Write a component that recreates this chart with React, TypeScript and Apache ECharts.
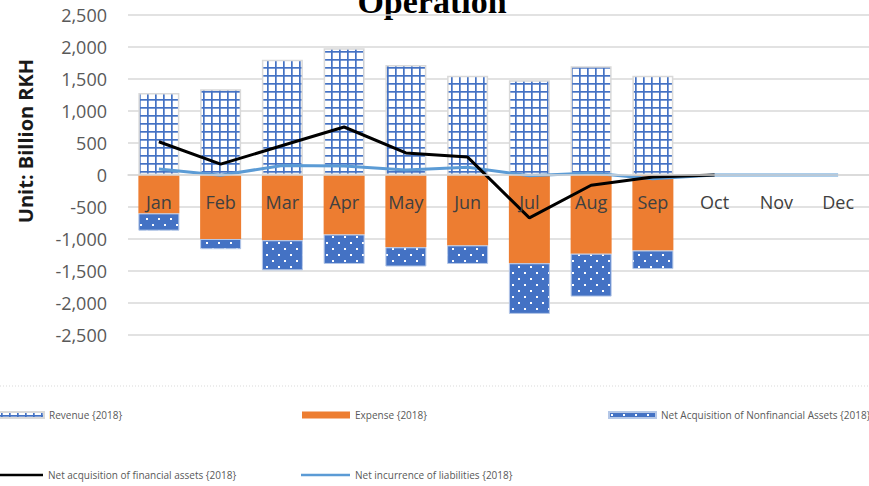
import React, { useEffect, useRef } from "react";
import * as echarts from "echarts";

const months = ["Jan", "Feb", "Mar", "Apr", "May", "Jun", "Jul", "Aug", "Sep", "Oct", "Nov", "Dec"];
const revenue = [1280, 1340, 1800, 1980, 1720, 1550, 1480, 1700, 1550, null, null, null];
const expense = [-600, -1000, -1020, -930, -1130, -1100, -1380, -1230, -1180, null, null, null];
const nonfinancial = [-270, -160, -470, -460, -300, -290, -790, -670, -290, null, null, null];
const financialAssets = [520, 170, 460, 750, 345, 280, -670, -160, -30, 0, null, null];
const liabilities = [95, -5, 150, 140, 80, 120, -10, 30, -60, 0, 0, 0];

const N_REV = "Revenue {2018}";
const N_EXP = "Expense {2018}";
const N_NFA = "Net Acquisition of Nonfinancial Assets {2018}";
const N_FA = "Net acquisition of financial assets {2018}";
const N_LIA = "Net incurrence of liabilities {2018}";

function gridPattern() {
  const c = document.createElement("canvas");
  c.width = 16;
  c.height = 16;
  const g = c.getContext("2d")!;
  g.fillStyle = "#ffffff";
  g.fillRect(0, 0, 16, 16);
  g.fillStyle = "#4472C4";
  g.fillRect(6, 0, 3.4, 16);
  g.fillRect(0, 6, 16, 3.4);
  return { image: c, repeat: "repeat", imageWidth: 8, imageHeight: 8 } as any;
}

function dotPattern() {
  const c = document.createElement("canvas");
  c.width = 24;
  c.height = 24;
  const g = c.getContext("2d")!;
  g.fillStyle = "#4472C4";
  g.fillRect(0, 0, 24, 24);
  g.fillStyle = "#ffffff";
  g.fillRect(4, 4, 4, 4);
  g.fillRect(16, 16, 4, 4);
  return { image: c, repeat: "repeat", imageWidth: 12, imageHeight: 12 } as any;
}

export default function App() {
  const ref = useRef<HTMLDivElement>(null);
  useEffect(() => {
    if (!ref.current) return;
    const chart = echarts.init(ref.current, null, { renderer: "svg" });
    const font = "'Open Sans', 'Noto Sans', sans-serif";
    const legendText = { fontSize: 10, color: "#595959", fontFamily: font };
    const mkLegend = (name: string, left: number, top: number, w: number, h: number, icon: string, color?: string) => ({
      data: [name],
      left,
      top,
      itemWidth: w,
      itemHeight: h,
      padding: 0,
      icon,
      selectedMode: false,
      textStyle: legendText,
      ...(color ? { itemStyle: { color, borderWidth: 0 } } : {}),
    });
    chart.setOption({
      animation: false,
      grid: { left: 128, right: -1, top: 15, bottom: 151, containLabel: false },
      xAxis: {
        type: "category",
        data: months,
        position: "bottom",
        offset: -160,
        axisLine: { show: true, onZero: false, lineStyle: { color: "#d9d9d9", width: 1.5 } },
        axisTick: { show: false },
        axisLabel: { fontSize: 18, color: "#404040", margin: 18, fontFamily: font },
        z: 10,
      },
      yAxis: {
        type: "value",
        min: -2500,
        max: 2500,
        interval: 500,
        axisLine: { show: false },
        axisTick: { show: false },
        axisLabel: {
          fontSize: 18,
          color: "#595959",
          margin: 21,
          fontFamily: font,
          formatter: (v: number) => v.toLocaleString("en-US"),
        },
        splitLine: { lineStyle: { color: "#d9d9d9", width: 1.5 } },
      },
      legend: [
        mkLegend(N_REV, -3, 410, 46, 6, "rect"),
        mkLegend(N_EXP, 302, 410, 48, 7, "rect"),
        mkLegend(N_NFA, 608, 410, 47, 6, "rect"),
        mkLegend(N_FA, -3, 470, 46, 2.5, "rect", "#000000"),
        mkLegend(N_LIA, 301, 470, 49, 2.5, "rect", "#5B9BD5"),
      ],
      series: [
        {
          name: N_REV,
          type: "bar",
          stack: "s",
          barWidth: 41,
          data: revenue,
          itemStyle: { color: gridPattern(), borderColor: "#d9d9d9", borderWidth: 1.5 },
        },
        {
          name: N_EXP,
          type: "bar",
          stack: "s",
          barWidth: 41,
          data: expense,
          itemStyle: { color: "#ED7D31" },
        },
        {
          name: N_NFA,
          type: "bar",
          stack: "s",
          barWidth: 41,
          data: nonfinancial,
          itemStyle: { color: dotPattern(), borderColor: "#b4c7e7", borderWidth: 1 },
        },
        {
          name: N_LIA,
          type: "line",
          data: liabilities,
          symbol: "none",
          lineStyle: { color: "#5B9BD5", width: 3 },
          itemStyle: { color: "#5B9BD5" },
          z: 3,
        },
        {
          name: N_FA,
          type: "line",
          data: financialAssets,
          symbol: "none",
          lineStyle: { color: "#000000", width: 3 },
          itemStyle: { color: "#000000" },
          z: 4,
        },
      ],
      graphic: [
        {
          type: "text",
          x: 432,
          y: 1,
          style: {
            text: "Operation",
            font: "bold 34px 'Liberation Serif', 'Times New Roman', serif",
            fill: "#000",
            align: "center",
            verticalAlign: "middle",
          },
        },
        {
          type: "text",
          x: 25,
          y: 141,
          rotation: Math.PI / 2,
          style: {
            text: "Unit: Billion RKH",
            font: "bold 20px 'Open Sans', 'Noto Sans', sans-serif",
            fill: "#1a1a1a",
            align: "center",
            verticalAlign: "middle",
          },
        },
        {
          type: "line",
          shape: { x1: 0, y1: 386, x2: 869, y2: 386 },
          style: { stroke: "#d9d9d9", lineWidth: 1, lineDash: [1, 2] },
        },
      ],
    });
    return () => chart.dispose();
  }, []);
  return (
    <div
      ref={ref}
      style={{ position: "absolute", left: 0, top: 0, width: 869, height: 486 }}
    />
  );
}
